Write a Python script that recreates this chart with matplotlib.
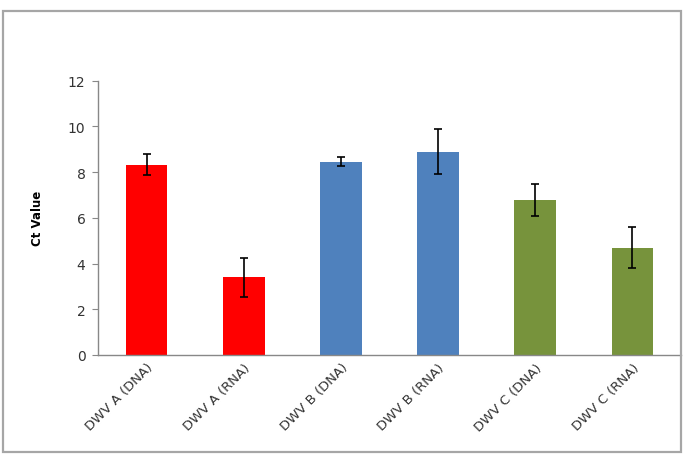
import numpy as np
import matplotlib
matplotlib.use("Agg")
import matplotlib.pyplot as plt
from matplotlib.patches import Rectangle

categories = ["DWV A (DNA)", "DWV A (RNA)", "DWV B (DNA)",
              "DWV B (RNA)", "DWV C (DNA)", "DWV C (RNA)"]
ct_values = [8.33, 3.40, 8.46, 8.90, 6.77, 4.70]
ct_errors = [0.46, 0.85, 0.21, 0.97, 0.70, 0.91]
bar_colors = ["#FF0000", "#FF0000", "#4F81BD", "#4F81BD", "#77933C", "#77933C"]

fig = plt.figure(figsize=(6.89, 4.60), dpi=100)
ax = fig.add_axes([98/689, 1-356/460, (681-98)/689, (356-81.7)/460])

x = np.arange(len(categories))
ax.bar(x, ct_values, width=0.43, color=bar_colors, zorder=2)
ax.errorbar(x, ct_values, yerr=ct_errors, fmt="none", ecolor="black",
            elinewidth=1.2, capsize=3, capthick=1.2, zorder=3)

ax.set_xlim(-0.5, len(categories) - 0.5)
ax.set_ylim(0, 12)
ax.set_yticks(range(0, 13, 2))
ax.set_xticks(x)
ax.set_xticklabels(categories, rotation=45, ha="right", rotation_mode="anchor",
                   fontsize=9.5, color="#333333")
ax.tick_params(axis="y", labelsize=10, colors="#333333", length=4, color="#888888", pad=5)
ax.tick_params(axis="x", length=0, pad=4)
ax.set_ylabel("Ct Value", fontsize=8.5, fontweight="bold", labelpad=17)

for s in ["top", "right"]:
    ax.spines[s].set_visible(False)
for s in ["left", "bottom"]:
    ax.spines[s].set_color("#888888")
    ax.spines[s].set_linewidth(1)

# grey frame around the chart
fig.patches.append(Rectangle((3/689, 1-453/460), 678/689, 441/460,
                             transform=fig.transFigure, fill=False,
                             edgecolor="#A6A6A6", linewidth=1.6))

fig.savefig("out.png", dpi=100)
